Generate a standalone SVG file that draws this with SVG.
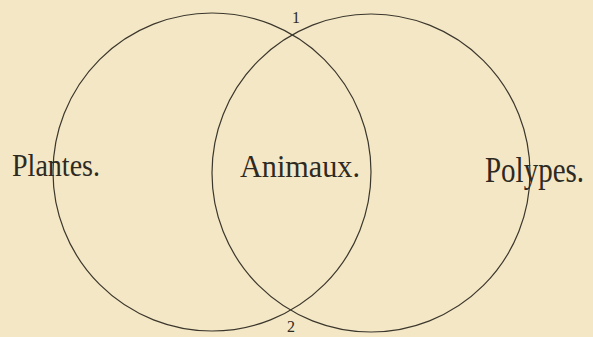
<svg xmlns="http://www.w3.org/2000/svg" width="593" height="337" viewBox="0 0 593 337">
  <style>
    .ring { fill: none; stroke: #3b372c; stroke-width: 1.2; }
    .lbl { font-family: "Liberation Serif", "DejaVu Serif", serif; fill: #2e2a22; }
    .num { font-family: "Liberation Serif", "DejaVu Serif", serif; fill: #2e2a22; font-size: 16px; text-anchor: middle; }
  </style>
  <rect x="0" y="0" width="593" height="337" fill="#f4e7c6"/>
  <g id="connectors"></g>
  <g id="plantes">
    <circle class="ring" cx="212" cy="172" r="159"/>
    <text class="lbl" x="12" y="176" font-size="32" textLength="88" lengthAdjust="spacingAndGlyphs">Plantes.</text>
  </g>
  <g id="polypes">
    <circle class="ring" cx="371" cy="173" r="159"/>
    <text class="lbl" transform="translate(485,182) scale(1,1.22)" x="0" y="0" font-size="29">Polypes.</text>
  </g>
  <g id="animaux">
    <text class="lbl" x="240" y="177" font-size="32" textLength="120" lengthAdjust="spacingAndGlyphs">Animaux.</text>
  </g>
  <g id="point1">
    <text class="num" x="296" y="23">1</text>
  </g>
  <g id="point2">
    <text class="num" x="291" y="332">2</text>
  </g>
</svg>
